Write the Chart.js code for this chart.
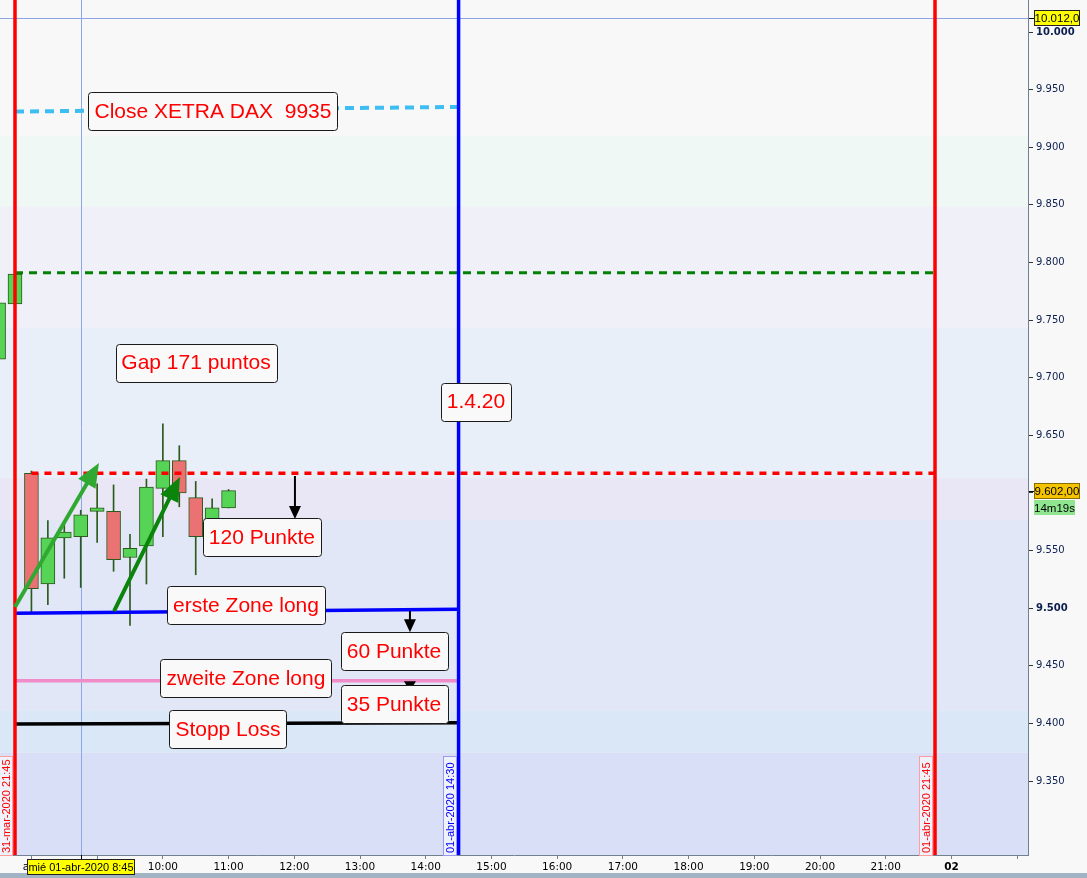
<!DOCTYPE html>
<html>
<head>
<meta charset="utf-8">
<script src="https://cdn.jsdelivr.net/npm/chart.js@4.4.1/dist/chart.umd.min.js"></script>
<style>
  html, body { margin: 0; padding: 0; background: #f8f8f8; overflow: hidden; }
  #wrap { width: 1087px; height: 878px; position: relative; }
</style>
</head>
<body>
<div id="wrap"><canvas id="dax"></canvas></div>
<script>
// 15-minute DAX candles. slot 0 = 01-abr-2020 8:00, slot -1 = 31-mar-2020 21:45
const slots  = [-2, -1, 0, 1, 2, 3, 4, 5, 6, 7, 8, 9, 10, 11, 12];
const opens  = [9716, 9764, 9617, 9521, 9561, 9562, 9584, 9584, 9544, 9554, 9604, 9628, 9596, 9576, 9587];
const closes = [9765, 9790, 9517, 9561, 9566, 9581, 9587, 9542, 9552, 9605, 9628, 9600, 9562, 9587, 9602];
const highs  = [9765, 9790, 9619, 9576, 9573, 9585, 9608, 9607, 9564, 9612, 9660, 9641, 9610, 9595, 9603];
const lows   = [9716, 9764, 9497, 9503, 9526, 9518, 9557, 9532, 9485, 9521, 9562, 9588, 9529, 9570, 9587];

// drawn levels (x given in slots)
const xetraCloseX = [-1, 26], xetraCloseY = [9931, 9935];
const prevCloseX  = [-1, 55], prevCloseY  = [9791, 9791];
const gapTopX     = [0, 55],  gapTopY     = [9617, 9617];
const zone1X      = [-1, 26], zone1Y      = [9495.5, 9499];
const zone2X      = [-1, 26], zone2Y      = [9437, 9437];
const stopX       = [-1, 26], stopY       = [9399.5, 9400.5];

// session markers
const markSlots  = [-1, 26, 55];
const markLabels = ['31-mar-2020 21:45', '01-abr-2020 14:30', '01-abr-2020 21:45'];
const markColors = ['#ff0000', '#0000ff', '#ff0000'];

// axis ticks
const yTicks = [9350, 9400, 9450, 9500, 9550, 9600, 9650, 9700, 9750, 9800, 9850, 9900, 9950, 10000];
const xTickSlots  = [0, 4, 8, 12, 16, 20, 24, 28, 32, 36, 40, 44, 48, 52, 56, 60];
const xTickLabels = ['abr', '9:00', '10:00', '11:00', '12:00', '13:00', '14:00', '15:00', '16:00',
                     '17:00', '18:00', '19:00', '20:00', '21:00', '02', ''];

// background zones (value edges from top to bottom)
const bandEdges  = [9909.5, 9848.6, 9743.6, 9612.9, 9576.5, 9410.9, 9374.7];
const bandColors = ['#f8f8f8', '#eff8f5', '#f0f0f9', '#e9eff8', '#e9e7f6', '#e1e7f6', '#d9e7f7', '#d9dff7'];

const crossSlot = 3, crossValue = 10012, lastPrice = 9602;

const notes = [
  { text: 'Close XETRA DAX  9935', x: 11.05, y: 9931.4 },
  { text: 'Gap 171 puntos', x: 10.02, y: 9713.2 },
  { text: '1.4.20', x: 27.06, y: 9679.3 },
  { text: '120 Punkte', x: 14.03, y: 9561.8 },
  { text: 'erste Zone long', x: 13.06, y: 9502.7 },
  { text: '60 Punkte', x: 22.07, y: 9462.8 },
  { text: 'zweite Zone long', x: 13.06, y: 9439.4 },
  { text: '35 Punkte', x: 22.07, y: 9416.8 },
  { text: 'Stopp Loss', x: 11.96, y: 9395.1 }
];

const arrows = [
  { from: [-1, 9501], to: [4.11, 9626], color: '#31a831', width: 4, head: 24, spread: 20 },
  { from: [5.03, 9497.5], to: [9.04, 9613.8], color: '#0a840a', width: 4, head: 24, spread: 20 },
  { from: [16.04, 9614.7], to: [16.04, 9577.4], color: '#000', width: 2, head: 13, spread: 12 },
  { from: [23.04, 9497.5], to: [23.04, 9479.2], color: '#000', width: 2, head: 13, spread: 12 },
  { from: [23.04, 9435], to: [23.04, 9428], color: '#000', width: 2, head: 10, spread: 12 }
];

const candleEdge = '#2b5a1c';
const upColor = '#55d455', downColor = '#ea7272';

function levelLine(xs, ys, color, width, dash) {
  return {
    type: 'line',
    data: xs.map((x, i) => ({ x: x, y: ys[i] })),
    borderColor: color,
    borderWidth: width,
    borderDash: dash,
    pointRadius: 0,
    fill: false,
    order: 0
  };
}

function drawArrow(ctx, x1, y1, x2, y2, a) {
  const ang = Math.atan2(y2 - y1, x2 - x1);
  const bx = x2 - a.head * Math.cos(ang), by = y2 - a.head * Math.sin(ang);
  const nx = -Math.sin(ang) * a.spread / 2, ny = Math.cos(ang) * a.spread / 2;
  ctx.strokeStyle = a.color;
  ctx.fillStyle = a.color;
  ctx.lineWidth = a.width;
  ctx.beginPath();
  ctx.moveTo(x1, y1);
  ctx.lineTo(bx + Math.cos(ang), by + Math.sin(ang));
  ctx.stroke();
  ctx.beginPath();
  ctx.moveTo(x2, y2);
  ctx.lineTo(bx + nx, by + ny);
  ctx.lineTo(bx - nx, by - ny);
  ctx.closePath();
  ctx.fill();
}

function badge(ctx, text, x, y, w, h, fill, stroke, color) {
  ctx.fillStyle = fill;
  ctx.fillRect(x, y, w, h);
  if (stroke) {
    ctx.strokeStyle = stroke;
    ctx.lineWidth = 1;
    ctx.strokeRect(x + 0.5, y + 0.5, w - 1, h - 1);
  }
  ctx.fillStyle = color;
  ctx.textAlign = 'center';
  ctx.textBaseline = 'middle';
  ctx.fillText(text, x + w / 2, y + h / 2 + 1);
}

const decor = {
  id: 'decor',
  beforeDraw(chart) {
    const { ctx, chartArea: a, width, height } = chart;
    const xs = chart.scales.x, ys = chart.scales.y;
    ctx.save();
    ctx.fillStyle = '#f8f8f8';
    ctx.fillRect(0, 0, width, height);
    ctx.fillStyle = '#a2b4c4';
    ctx.fillRect(0, height - 5, width, 5);
    const edges = [ys.max].concat(bandEdges, [ys.min]);
    for (let i = 0; i < bandColors.length; i++) {
      const t = ys.getPixelForValue(edges[i]), b = ys.getPixelForValue(edges[i + 1]);
      ctx.fillStyle = bandColors[i];
      ctx.fillRect(a.left, t, a.right - a.left, b - t);
    }
    // crosshair
    ctx.strokeStyle = '#8ea6e6';
    ctx.lineWidth = 1;
    const cy = Math.round(ys.getPixelForValue(crossValue)) + 0.5;
    const cx = Math.round(xs.getPixelForValue(crossSlot)) + 0.5;
    ctx.beginPath();
    ctx.moveTo(a.left, cy); ctx.lineTo(a.right, cy);
    ctx.moveTo(cx, a.top); ctx.lineTo(cx, a.bottom);
    ctx.stroke();
    ctx.restore();
  },
  afterDatasetsDraw(chart) {
    const { ctx, chartArea: a } = chart;
    const xs = chart.scales.x, ys = chart.scales.y;
    ctx.save();
    // session lines
    markSlots.forEach((s, i) => {
      const x = xs.getPixelForValue(s);
      ctx.strokeStyle = markColors[i];
      ctx.lineWidth = 3.5;
      ctx.beginPath();
      ctx.moveTo(x, a.top); ctx.lineTo(x, a.bottom);
      ctx.stroke();
    });
    // arrows
    arrows.forEach(ar => {
      drawArrow(ctx, xs.getPixelForValue(ar.from[0]), ys.getPixelForValue(ar.from[1]),
        xs.getPixelForValue(ar.to[0]), ys.getPixelForValue(ar.to[1]), ar);
    });
    // text boxes
    ctx.font = '21px "Liberation Sans", Arial, sans-serif';
    ctx.textAlign = 'center';
    ctx.textBaseline = 'middle';
    notes.forEach(n => {
      const cx = xs.getPixelForValue(n.x), cy = ys.getPixelForValue(n.y);
      const w = Math.round(ctx.measureText(n.text).width + 12), h = 38;
      const x0 = Math.round(cx - w / 2) + 0.5, y0 = Math.round(cy - h / 2) + 0.5;
      ctx.beginPath();
      ctx.roundRect(x0, y0, w, h, 3);
      ctx.fillStyle = '#f9f9f9';
      ctx.fill();
      ctx.strokeStyle = '#1a1a1a';
      ctx.lineWidth = 1;
      ctx.stroke();
      ctx.fillStyle = '#ff0000';
      ctx.fillText(n.text, cx, cy + 1);
    });
    // rotated date labels next to session lines
    ctx.font = '11px "Liberation Sans", Arial, sans-serif';
    markSlots.forEach((s, i) => {
      const x = xs.getPixelForValue(s);
      const boxR = Math.round(x - 2), boxW = 14, boxH = 99;
      ctx.fillStyle = 'rgba(250,250,252,0.7)';
      ctx.fillRect(boxR - boxW, a.bottom - boxH, boxW, boxH);
      ctx.strokeStyle = i === 1 ? '#9a9af5' : '#ff9c9c';
      ctx.lineWidth = 1;
      ctx.strokeRect(boxR - boxW + 0.5, a.bottom - boxH + 0.5, boxW - 1, boxH);
      ctx.save();
      ctx.translate(boxR - boxW / 2 + 0.5, a.bottom - 2);
      ctx.rotate(-Math.PI / 2);
      ctx.fillStyle = markColors[i];
      ctx.textAlign = 'left';
      ctx.textBaseline = 'middle';
      ctx.fillText(markLabels[i], 0, 0);
      ctx.restore();
    });
    ctx.restore();
  },
  afterDraw(chart) {
    const { ctx, chartArea: a } = chart;
    const xs = chart.scales.x, ys = chart.scales.y;
    ctx.save();
    ctx.font = '11.5px "Liberation Sans", Arial, sans-serif';
    // crosshair price
    const cy = Math.round(ys.getPixelForValue(crossValue));
    ctx.fillStyle = '#000';
    ctx.fillRect(a.right + 1, cy, 5, 1);
    badge(ctx, '10.012,0', a.right + 6, cy - 8, 46, 16, '#ffff00', '#222', '#000');
    // last price
    const ly = Math.round(ys.getPixelForValue(lastPrice));
    ctx.fillStyle = '#000';
    ctx.fillRect(a.right + 1, ly, 5, 1);
    badge(ctx, '9.602,00', a.right + 6, ly - 8, 46, 16, '#f5c400', '#8a6d00', '#000');
    badge(ctx, '14m19s', a.right + 6, ly + 9, 41, 15, '#90e690', null, '#000');
    // crosshair time
    const cx = Math.round(xs.getPixelForValue(crossSlot));
    ctx.fillStyle = '#000';
    ctx.fillRect(cx, a.bottom, 1, 4);
    ctx.font = '11px "Liberation Sans", Arial, sans-serif';
    const tw = Math.round(ctx.measureText('mié 01-abr-2020 8:45').width + 3);
    badge(ctx, 'mié 01-abr-2020 8:45', cx - 54, a.bottom + 4, tw, 16, '#ffff00', '#222', '#000');
    ctx.restore();
  }
};

const candleBodies = slots.map((s, i) => ({ x: s, y: [opens[i], closes[i]] }));
const candleWicks  = slots.map((s, i) => ({ x: s, y: [lows[i], highs[i]] }));

new Chart(document.getElementById('dax'), {
  data: {
    datasets: [
      levelLine(xetraCloseX, xetraCloseY, '#3dbdf2', 4, [9, 6]),
      levelLine(prevCloseX, prevCloseY, '#008000', 3, [8, 6]),
      levelLine(gapTopX, gapTopY, '#ff0000', 3.5, [7, 6]),
      levelLine(zone1X, zone1Y, '#0000ff', 3.5, []),
      levelLine(zone2X, zone2Y, '#f08cc8', 3.5, []),
      levelLine(stopX, stopY, '#000000', 3.5, []),
      {
        type: 'bar',
        data: candleBodies,
        backgroundColor: c => closes[c.dataIndex] >= opens[c.dataIndex] ? upColor : downColor,
        borderColor: candleEdge,
        borderWidth: 1,
        borderSkipped: false,
        barThickness: 14,
        grouped: false,
        order: 1
      },
      {
        type: 'bar',
        data: candleWicks,
        backgroundColor: candleEdge,
        barThickness: 1,
        grouped: false,
        order: 2
      }
    ]
  },
  options: {
    responsive: true,
    maintainAspectRatio: false,
    animation: false,
    events: [],
    layout: { padding: 0 },
    plugins: { legend: { display: false }, tooltip: { enabled: false } },
    scales: {
      x: {
        type: 'linear',
        position: 'bottom',
        offset: false,
        min: -1.913,
        max: 60.66,
        afterBuildTicks: s => { s.ticks = xTickSlots.map(v => ({ value: v })); },
        afterFit: s => { s.height = 23; s.paddingLeft = 0; s.paddingRight = 0; },
        ticks: {
          autoSkip: false,
          maxRotation: 0,
          padding: 2,
          color: '#000',
          callback: (v, i) => xTickLabels[i],
          font: c => ({ family: 'DejaVu Sans', size: 10.5, weight: xTickLabels[c.index] === '02' ? 'bold' : 'normal' })
        },
        grid: { offset: false, drawOnChartArea: false, tickLength: 4, color: '#71818f' },
        border: { color: '#71818f' }
      },
      y: {
        type: 'linear',
        position: 'right',
        min: 9285.8,
        max: 10027.8,
        afterBuildTicks: s => { s.ticks = yTicks.map(v => ({ value: v })); },
        afterFit: s => { s.width = 59; s.paddingTop = 0; s.paddingBottom = 0; },
        ticks: {
          padding: 3,
          color: '#0c1f4f',
          callback: v => String(v).replace(/\B(?=(\d{3})+(?!\d))/g, '.'),
          font: c => ({ family: 'DejaVu Sans', size: 10, weight: c.tick && c.tick.value % 500 === 0 ? 'bold' : 'normal' })
        },
        grid: { drawOnChartArea: false, tickLength: 5, color: '#333' },
        border: { color: '#71818f' }
      }
    }
  },
  plugins: [decor]
});
</script>
</body>
</html>
